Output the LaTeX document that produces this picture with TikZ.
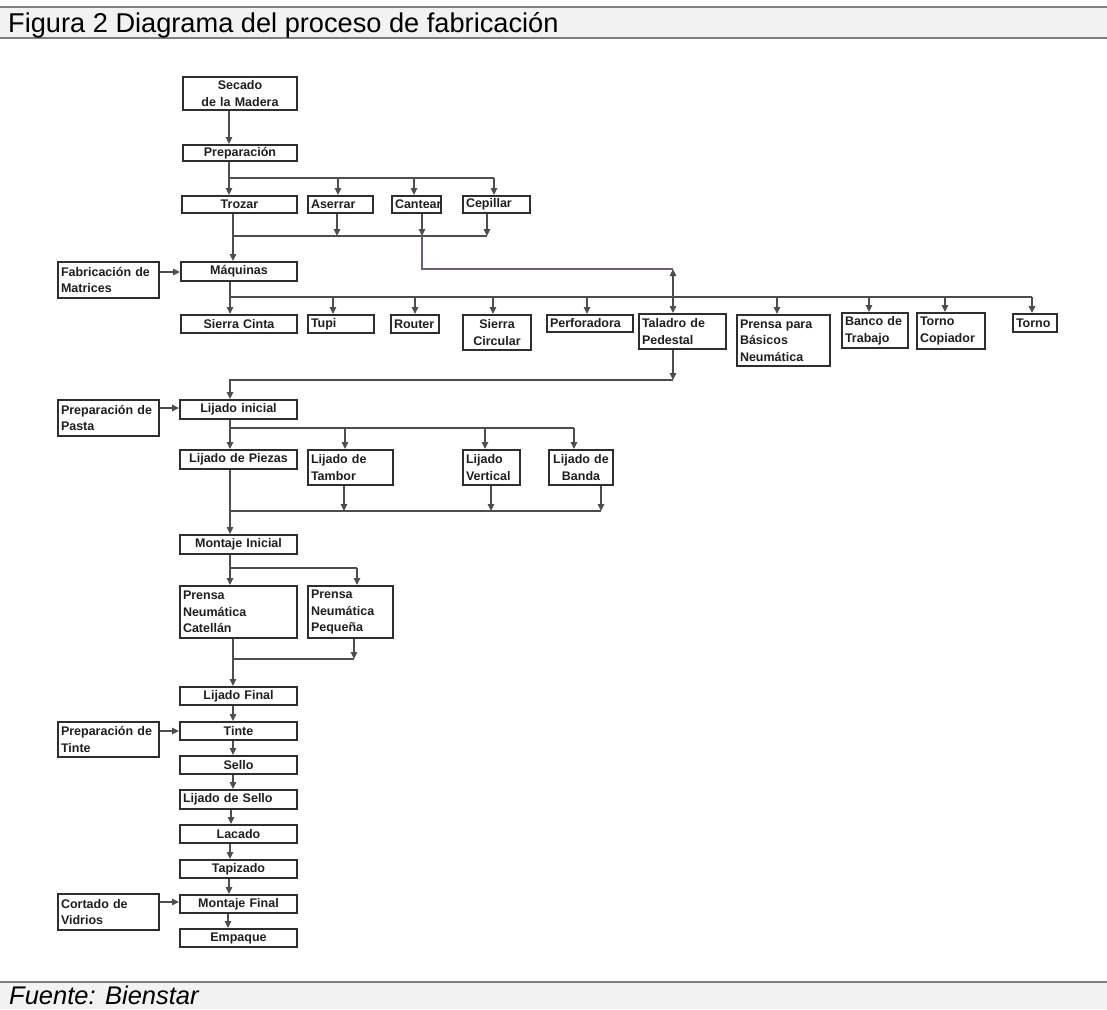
\documentclass[tikz,border=0pt]{standalone}
\usepackage{fontspec}
\setmainfont{Liberation Sans}
\usetikzlibrary{arrows.meta}
\definecolor{bandgray}{HTML}{F2F2F2}
\definecolor{rulegray}{HTML}{808080}
\definecolor{boxline}{HTML}{2E2E2E}
\definecolor{conn}{HTML}{4D4D4D}
\definecolor{connp}{HTML}{6E5A7A}
\definecolor{txt}{HTML}{1E1E1E}
\tikzset{
  bx/.style={draw=boxline, line width=2pt, inner xsep=3pt, inner ysep=0pt,
    text=txt, font=\bfseries\fontsize{12.5}{16.6}\selectfont},
  ln/.style={draw=conn, line width=1.3pt},
  arr/.style={ln, -{Triangle[length=7pt,width=6.5pt]}},
  darr/.style={ln, {Triangle[length=7pt,width=6.5pt]}-{Triangle[length=7pt,width=6.5pt]}},
}
\newcommand\bx[7]{%
  \pgfmathsetmacro\bxw{#4-#2}%
  \pgfmathsetmacro\bxh{#5-#3}%
  \pgfmathsetmacro\bxt{#4-#2-6}%
  \node[bx,anchor=north west,minimum width=\bxw pt,minimum height=\bxh pt,
        text width=\bxt pt,align=#6] (#1) at (#2,#3) {#7};}
\begin{document}
\begin{tikzpicture}[x=1pt,y=-1pt]
\useasboundingbox (0,0) rectangle (1107,1009);
% header and footer
\fill[bandgray] (0,6.7) rectangle (1107,38.3);
\draw[rulegray,line width=2pt] (0,6.7) -- (1107,6.7);
\draw[rulegray,line width=2pt] (0,38.3) -- (1107,38.3);
\node[anchor=base west,inner sep=0pt,text=black,font=\fontsize{27.2}{30}\selectfont] (title) at (8,32) {Figura 2 Diagrama del proceso de fabricación};
\fill[bandgray] (0,982.3) rectangle (1107,1009);
\draw[rulegray,line width=2pt] (0,982.3) -- (1107,982.3);
\node[anchor=base west,inner sep=0pt,text=black,font=\itshape\fontsize{25.5}{30}\selectfont] (source) at (9,1004.5) {Fuente: Bienstar};

% boxes
\bx{secado}{182}{76}{296}{109}{center}{Secado\\de la Madera}
\bx{prep}{182}{144}{296}{160}{center}{Preparación}
\bx{trozar}{181}{195}{296}{212}{center}{Trozar}
\bx{aserrar}{307}{195}{372}{212}{left}{Aserrar}
\bx{cantear}{391}{195}{440}{212}{left}{Cantear}
\bx{cepillar}{462}{195}{529}{212}{left}{Cepillar}
\bx{fabm}{57}{261}{158}{297}{left}{Fabricación de\\Matrices}
\bx{maq}{180}{261}{296}{280}{center}{Máquinas}
\bx{sierrac}{180}{314}{296}{332}{center}{Sierra Cinta}
\bx{tupi}{307}{314}{373}{332}{left}{Tupi}
\bx{router}{390}{314}{438}{332}{left}{Router}
\bx{scirc}{462}{314}{530}{349}{center}{Sierra\\Circular}
\bx{perf}{546}{314}{632}{331}{left}{Perforadora}
\bx{taladro}{638}{313}{725}{348}{left}{Taladro de\\Pedestal}
\bx{prensab}{736}{314}{829}{365}{left}{Prensa para\\Básicos\\Neumática}
\bx{banco}{841}{312}{907}{347}{left}{Banco de\\Trabajo}
\bx{tcop}{916}{312}{984}{348}{left}{Torno\\Copiador}
\bx{torno}{1012}{313}{1056}{331}{left}{Torno}
\bx{lijini}{179}{399}{296}{418}{center}{Lijado inicial}
\bx{ppasta}{57}{399}{158}{435}{left}{Preparación de\\Pasta}
\bx{lpiezas}{179}{449}{296}{468}{center}{Lijado de Piezas}
\bx{ltambor}{307}{449}{392}{484}{left}{Lijado de\\Tambor}
\bx{lvert}{462}{449}{519}{484}{left}{Lijado\\Vertical}
\bx{lbanda}{548}{449}{612}{484}{center}{Lijado de\\Banda}
\bx{montini}{179}{534}{296}{553}{center}{Montaje Inicial}
\bx{pcat}{179}{585}{296}{637}{left}{Prensa\\Neumática\\Catellán}
\bx{ppeq}{307}{585}{392}{637}{left}{Prensa\\Neumática\\Pequeña}
\bx{lfinal}{179}{686}{296}{704}{center}{Lijado Final}
\bx{tinte}{179}{721}{296}{739}{center}{Tinte}
\bx{ptinte}{57}{721}{158}{756}{left}{Preparación de\\Tinte}
\bx{sello}{179}{755}{296}{773}{center}{Sello}
\bx{lsello}{179}{789}{296}{808}{left}{Lijado de Sello}
\bx{lacado}{179}{824}{296}{842}{center}{Lacado}
\bx{tapizado}{179}{859}{296}{877}{center}{Tapizado}
\bx{mfinal}{179}{894}{296}{912}{center}{Montaje Final}
\bx{cvid}{57}{893}{158}{929}{left}{Cortado de\\Vidrios}
\bx{empaque}{179}{928}{296}{946}{center}{Empaque}

% top section
\draw[arr] (229,0 |- secado.south) -- (229,0 |- prep.north);
\draw[ln] (229,0 |- prep.south) -- (229,178) -- (494,178);
\draw[arr] (229,178) -- (229,0 |- trozar.north);
\draw[arr] (338,178) -- (338,0 |- aserrar.north);
\draw[arr] (414,178) -- (414,0 |- cantear.north);
\draw[arr] (494,178) -- (494,0 |- cepillar.north);
\draw[ln] (233,236) -- (487,236);
\draw[arr] (337,0 |- aserrar.south) -- (337,236);
\draw[arr] (422,0 |- cantear.south) -- (422,236);
\draw[arr] (487,0 |- cepillar.south) -- (487,236);
\draw[arr] (233,0 |- trozar.south) -- (233,0 |- maq.north);
\draw[ln,draw=connp] (422,236) -- (422,269) -- (673,269);
\draw[darr] (673,269) -- (673,0 |- taladro.north);
\draw[arr] (fabm.east |- 0,272) -- (maq.west |- 0,272);

% machines
\draw[ln] (230,0 |- maq.south) -- (230,297) -- (1032,297);
\draw[arr] (230,297) -- (230,0 |- sierrac.north);
\draw[arr] (333,297) -- (333,0 |- tupi.north);
\draw[arr] (415,297) -- (415,0 |- router.north);
\draw[arr] (493,297) -- (493,0 |- scirc.north);
\draw[arr] (587,297) -- (587,0 |- perf.north);
\draw[arr] (777,297) -- (777,0 |- prensab.north);
\draw[arr] (869,297) -- (869,0 |- banco.north);
\draw[arr] (945,297) -- (945,0 |- tcop.north);
\draw[arr] (1032,297) -- (1032,0 |- torno.north);

% return to sanding
\draw[arr] (673,0 |- taladro.south) -- (673,380);
\draw[arr] (673,380) -- (230,380) -- (230,0 |- lijini.north);
\draw[arr] (ppasta.east |- 0,408) -- (lijini.west |- 0,408);
\draw[ln] (230,0 |- lijini.south) -- (230,428) -- (574,428);
\draw[arr] (230,428) -- (230,0 |- lpiezas.north);
\draw[arr] (345,428) -- (345,0 |- ltambor.north);
\draw[arr] (485,428) -- (485,0 |- lvert.north);
\draw[arr] (574,428) -- (574,0 |- lbanda.north);
\draw[ln] (230,511) -- (601,511);
\draw[arr] (344,0 |- ltambor.south) -- (344,511);
\draw[arr] (491,0 |- lvert.south) -- (491,511);
\draw[arr] (601,0 |- lbanda.south) -- (601,511);
\draw[arr] (230,0 |- lpiezas.south) -- (230,0 |- montini.north);

% assembly
\draw[ln] (230,0 |- montini.south) -- (230,568) -- (357,568);
\draw[arr] (230,568) -- (230,0 |- pcat.north);
\draw[arr] (357,568) -- (357,0 |- ppeq.north);
\draw[arr] (233,0 |- pcat.south) -- (233,0 |- lfinal.north);
\draw[arr] (354,0 |- ppeq.south) -- (354,659);
\draw[ln] (233,659) -- (354,659);
\draw[arr] (233,0 |- lfinal.south) -- (233,0 |- tinte.north);
\draw[arr] (ptinte.east |- 0,731) -- (tinte.west |- 0,731);
\draw[arr] (233,0 |- tinte.south) -- (233,0 |- sello.north);
\draw[arr] (233,0 |- sello.south) -- (233,0 |- lsello.north);
\draw[arr] (231,0 |- lsello.south) -- (231,0 |- lacado.north);
\draw[arr] (230,0 |- lacado.south) -- (230,0 |- tapizado.north);
\draw[arr] (229,0 |- tapizado.south) -- (229,0 |- mfinal.north);
\draw[arr] (cvid.east |- 0,902) -- (mfinal.west |- 0,902);
\draw[arr] (228,0 |- mfinal.south) -- (228,0 |- empaque.north);
\end{tikzpicture}
\end{document}
